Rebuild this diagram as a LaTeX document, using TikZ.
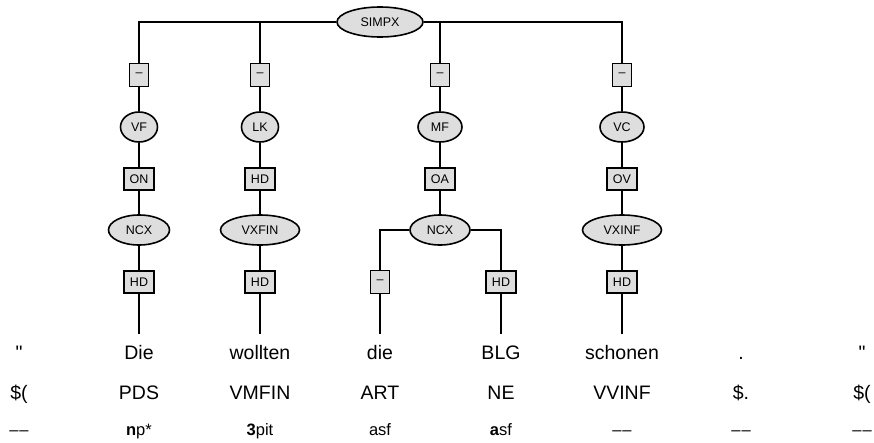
\documentclass[tikz,border=0pt]{standalone}
\usepackage{fontspec}
\setmainfont{Liberation Sans}[Ligatures=TeXOff]
\usetikzlibrary{shapes.geometric}
\definecolor{catfill}{gray}{0.87}
\newcommand{\dashpair}{\textendash\kern1pt\textendash}
\begin{document}
\begin{tikzpicture}[x=1pt,y=-1pt,
  edge/.style={line width=1.8pt},
  cat/.style={ellipse, draw, line width=1.6pt, fill=catfill, inner sep=0pt,
    font=\fontsize{12.5}{14}\selectfont, minimum height=30pt},
  fn/.style={rectangle, draw, line width=1.6pt, fill=catfill, inner sep=0pt,
    font=\fontsize{12.5}{14}\selectfont, minimum height=22pt, minimum width=30pt},
  nofn/.style={fn, minimum width=19pt, minimum height=23pt},
  word/.style={anchor=base, inner xsep=1pt, inner ysep=0pt, text height=14pt,
    text depth=4pt, outer ysep=11pt, font=\fontsize{19.5}{22}\selectfont},
  tag/.style={anchor=base, inner sep=0pt, font=\fontsize{19.5}{22}\selectfont},
  morph/.style={anchor=base, inner sep=0pt, font=\fontsize{16.5}{19}\selectfont}]
\useasboundingbox (0,0) rectangle (874,442);

% phrase structure
\node[cat, minimum width=86pt] (simpx) at (380,22) {SIMPX};

\node[nofn] (e1) at (139,75) {\textendash};
\node[nofn] (e2) at (260,75) {\textendash};
\node[nofn] (e3) at (440,75) {\textendash};
\node[nofn] (e4) at (622,75) {\textendash};

\node[cat, minimum width=37pt] (vf) at (139,127) {VF};
\node[cat, minimum width=37pt] (lk) at (260,127) {LK};
\node[cat, minimum width=44pt] (mf) at (440,127) {MF};
\node[cat, minimum width=44pt] (vc) at (622,127) {VC};

\node[fn] (on) at (139,179) {ON};
\node[fn] (hd1) at (260,179) {HD};
\node[fn] (oa) at (440,179) {OA};
\node[fn] (ov) at (622,179) {OV};

\node[cat, minimum width=61pt] (ncx1) at (139,230) {NCX};
\node[cat, minimum width=79pt] (vxfin) at (260,230) {VXFIN};
\node[cat, minimum width=60pt] (ncx2) at (440,230) {NCX};
\node[cat, minimum width=79pt] (vxinf) at (622,230) {VXINF};

\node[fn] (hd2) at (139,282) {HD};
\node[fn] (hd3) at (260,282) {HD};
\node[nofn] (e5) at (380,282) {\textendash};
\node[fn] (hd4) at (501,282) {HD};
\node[fn] (hd5) at (622,282) {HD};

% tokens: word, tag, morphology
\node[word] (w0) at (19,359) {"};
\node[word] (w1) at (139,359) {Die};
\node[word] (w2) at (260,359) {wollten};
\node[word] (w3) at (380,359) {die};
\node[word] (w4) at (501,359) {BLG};
\node[word] (w5) at (622,359) {schonen};
\node[word] (w6) at (741,359) {.};
\node[word] (w7) at (862,359) {"};

\node[tag] (t0) at (19,399) {\$(};
\node[tag] (t1) at (139,399) {PDS};
\node[tag] (t2) at (260,399) {VMFIN};
\node[tag] (t3) at (380,399) {ART};
\node[tag] (t4) at (501,399) {NE};
\node[tag] (t5) at (622,399) {VVINF};
\node[tag] (t6) at (741,399) {\$.};
\node[tag] (t7) at (862,399) {\$(};

\node[morph] (m0) at (19,435) {\dashpair};
\node[morph] (m1) at (139,435) {\textbf{n}p*};
\node[morph] (m2) at (260,435) {\textbf{3}pit};
\node[morph] (m3) at (380,435) {asf};
\node[morph] (m4) at (501,435) {\textbf{a}sf};
\node[morph] (m5) at (622,435) {\dashpair};
\node[morph] (m6) at (741,435) {\dashpair};
\node[morph] (m7) at (862,435) {\dashpair};

% edges
\draw[edge] (simpx) -| (e1);
\draw[edge] (simpx) -| (e2);
\draw[edge] (simpx) -| (e3);
\draw[edge] (simpx) -| (e4);
\draw[edge] (e1) -- (vf);
\draw[edge] (e2) -- (lk);
\draw[edge] (e3) -- (mf);
\draw[edge] (e4) -- (vc);
\draw[edge] (vf) -- (on);
\draw[edge] (lk) -- (hd1);
\draw[edge] (mf) -- (oa);
\draw[edge] (vc) -- (ov);
\draw[edge] (on) -- (ncx1);
\draw[edge] (hd1) -- (vxfin);
\draw[edge] (oa) -- (ncx2);
\draw[edge] (ov) -- (vxinf);
\draw[edge] (ncx1) -- (hd2);
\draw[edge] (vxfin) -- (hd3);
\draw[edge] (ncx2) -| (e5);
\draw[edge] (ncx2) -| (hd4);
\draw[edge] (vxinf) -- (hd5);
\draw[edge] (hd2) -- (w1);
\draw[edge] (hd3) -- (w2);
\draw[edge] (e5) -- (w3);
\draw[edge] (hd4) -- (w4);
\draw[edge] (hd5) -- (w5);
\end{tikzpicture}
\end{document}
